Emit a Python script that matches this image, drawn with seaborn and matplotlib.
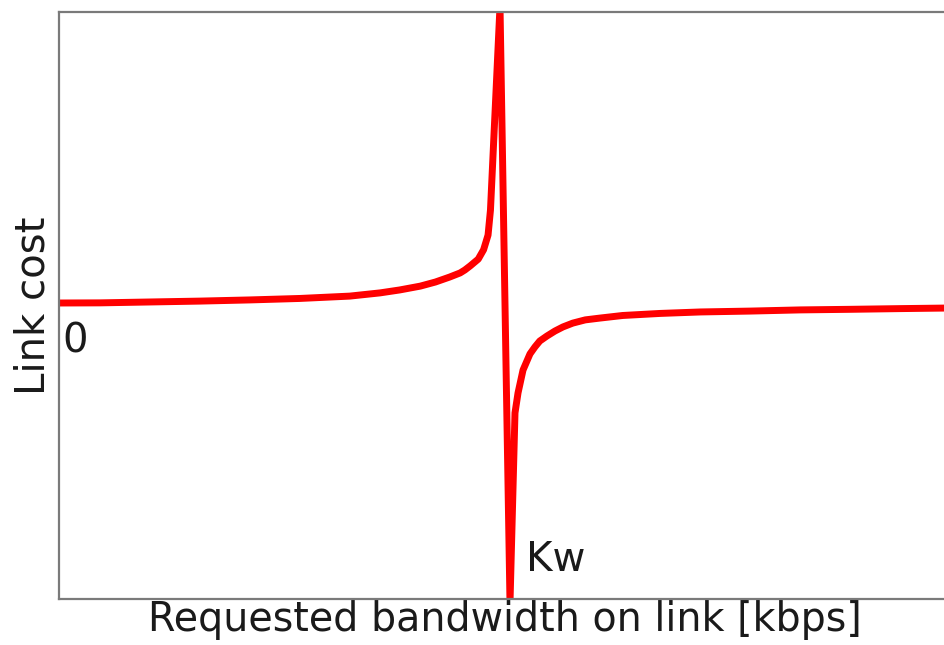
import matplotlib
matplotlib.use("Agg")
import matplotlib.pyplot as plt
import seaborn as sns
import pandas as pd

# Requested bandwidth (kbps, arbitrary units) and the resulting link cost
bandwidth = [0, 4.6, 10.2, 15.8, 21.4, 27.0, 32.6, 36.0, 38.2, 40.5, 42.2,
             43.8, 44.97, 45.5, 46.1, 47.0, 47.6, 48.1, 48.37, 49.44,
             50.56, 51.12, 51.46, 52.02, 52.8, 53.36, 53.9, 54.7, 55.6, 56.5,
             57.6, 59.0, 60.6, 63.2, 67.4, 71.9, 77.5, 83.1, 88.7, 94.3, 100]
link_cost = [0.0085, 0.009, 0.012, 0.015, 0.019, 0.024, 0.032, 0.043, 0.053,
             0.066, 0.080, 0.097, 0.111, 0.121, 0.135, 0.158, 0.19, 0.24,
             0.325, 1.02,
             -1.013, -0.366, -0.298, -0.22, -0.165, -0.141, -0.121, -0.104,
             -0.087, -0.073, -0.060, -0.049, -0.043, -0.034, -0.027, -0.022,
             -0.019, -0.015, -0.013, -0.0106, -0.0085]

kw_label = "Kw"
origin_label = "0"

sns.set_style("white")
plt.rcParams["font.family"] = ["DejaVu Sans"]

fig = plt.figure(figsize=(9.45, 6.45), dpi=100)
ax = fig.add_axes([59 / 945, 46 / 645, 892 / 945, 587 / 645])

df = pd.DataFrame({"bandwidth": bandwidth, "cost": link_cost})
sns.lineplot(data=df, x="bandwidth", y="cost", sort=False, estimator=None,
             color="#ff0000", linewidth=5, ax=ax)
ax.lines[0].set_solid_joinstyle("round")

ax.set_xlim(0, 100)
ax.set_ylim(-1, 1)
ax.set_xticks([])
ax.set_yticks([])
for sp in ax.spines.values():
    sp.set_color("#7a7a7a")
    sp.set_linewidth(1.6)

ax.set_xlabel("Requested bandwidth on link [kbps]", fontsize=28.5,
              color="#1a1a1a", labelpad=1)
ax.set_ylabel("Link cost", fontsize=29, color="#1a1a1a", labelpad=4)

ax.text(0.4, -0.055, origin_label, fontsize=29, color="#1a1a1a",
        ha="left", va="top")
ax.text(52.4, -0.935, kw_label, fontsize=29, color="#1a1a1a",
        ha="left", va="bottom")

fig.savefig("out.png", dpi=100)
